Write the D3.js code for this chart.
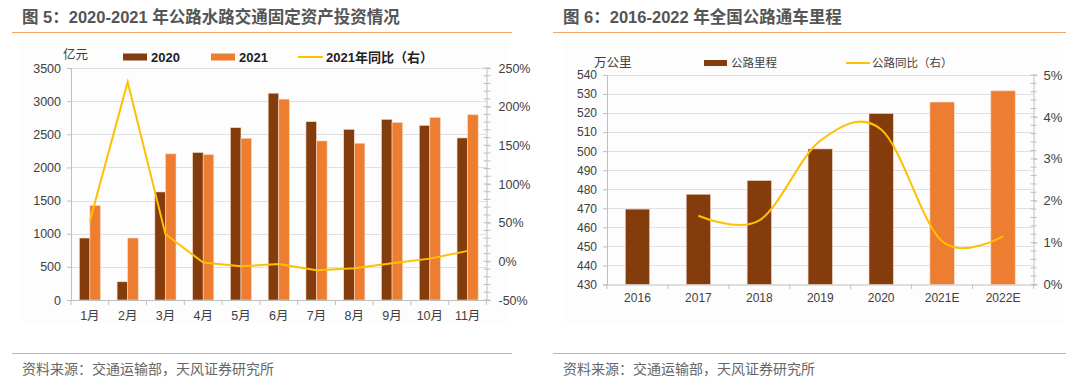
<!DOCTYPE html>
<html>
<head>
<meta charset="utf-8">
<script src="https://cdn.jsdelivr.net/npm/d3@7"></script>
<style>
  body { margin: 0; background: #fff; }
  svg text { font-family: "Liberation Sans", "Noto Sans CJK SC", sans-serif; }
</style>
</head>
<body>
<script>
// chart 5 data
let months = ["1月", "2月", "3月", "4月", "5月", "6月", "7月", "8月", "9月", "10月", "11月"];
let inv2020 = [935, 275, 1630, 2225, 2600, 3120, 2690, 2575, 2725, 2635, 2445];
let inv2021 = [1425, 935, 2205, 2195, 2440, 3030, 2400, 2365, 2680, 2755, 2795];
let yoy2021 = [0.52, 2.32, 0.35, -0.015, -0.065, -0.035, -0.115, -0.09, -0.025, 0.035, 0.135];
let leftTicks = [0, 500, 1000, 1500, 2000, 2500, 3000, 3500];
let rightTicks = [-0.5, 0, 0.5, 1, 1.5, 2, 2.5];

// chart 6 data
let years = ["2016", "2017", "2018", "2019", "2020", "2021E", "2022E"];
let mileage = [469.6, 477.4, 484.6, 501.2, 519.8, 525.8, 531.7];
let mileageYoy = [null, 0.0164, 0.0153, 0.0343, 0.0370, 0.0103, 0.0115];
let mileTicks = [430, 440, 450, 460, 470, 480, 490, 500, 510, 520, 530, 540];
let pctTicks = [0, 0.01, 0.02, 0.03, 0.04, 0.05];

let brown = "#843C0C", orange = "#ED7D31", gold = "#FFC000";
let gridColor = "#e0e0e0", axisColor = "#bfbfbf", labelColor = "#404040";
let sepColor = "#F5A766";

let svg = d3.select("body").append("svg")
  .attr("width", 1080)
  .attr("height", 386);

// frame: title, separator lines, source
function frame(x0, x1, title) {
  svg.append("rect")
    .attr("x", x0 + 10).attr("y", 40)
    .attr("width", x1 - x0 - 12).attr("height", 283)
    .attr("fill", "#fdfdfd");
  svg.append("text")
    .attr("x", x0 + 10).attr("y", 23)
    .attr("font-size", 16.5).attr("font-weight", "bold")
    .attr("fill", "#555")
    .text(title);
  svg.append("line")
    .attr("x1", x0).attr("x2", x1).attr("y1", 32.5).attr("y2", 32.5)
    .attr("stroke", sepColor).attr("stroke-width", 1.2);
  svg.append("line")
    .attr("x1", x0).attr("x2", x1).attr("y1", 353.5).attr("y2", 353.5)
    .attr("stroke", sepColor).attr("stroke-width", 1.2);
  svg.append("text")
    .attr("x", x0 + 10).attr("y", 374)
    .attr("font-size", 14).attr("fill", "#666")
    .text("资料来源：交通运输部，天风证券研究所");
}

frame(12, 512, "图 5：2020-2021 年公路水路交通固定资产投资情况");
frame(553, 1066, "图 6：2016-2022 年全国公路通车里程");

// ---------- chart 5 ----------
let x0 = d3.scaleBand().domain(months).range([71, 486.5])
  .paddingInner(0.44).paddingOuter(0.22);
let x1 = d3.scaleBand().domain(["2020", "2021"]).range([0, x0.bandwidth()]);
let yL = d3.scaleLinear().domain([0, 3500]).range([300, 68]);
let yR = d3.scaleLinear().domain([-0.5, 2.5]).range([300, 68]);

let g5 = svg.append("g");

g5.selectAll(".grid").data(leftTicks.slice(1)).enter()
  .append("line")
  .attr("x1", 71).attr("x2", 486.5)
  .attr("y1", d => Math.round(yL(d)) + 0.5).attr("y2", d => Math.round(yL(d)) + 0.5)
  .attr("stroke", gridColor);

let bars5 = months.map((m, i) => [
  {m: m, k: "2020", v: inv2020[i], c: brown},
  {m: m, k: "2021", v: inv2021[i], c: orange}
]).flat();

g5.selectAll(".bar").data(bars5).enter()
  .append("rect")
  .attr("x", d => x0(d.m) + x1(d.k))
  .attr("y", d => yL(d.v))
  .attr("width", x1.bandwidth())
  .attr("height", d => yL(0) - yL(d.v))
  .attr("fill", d => d.c)
  .attr("stroke", "#f6dccb").attr("stroke-width", 0.6);

// left axis
let axL = g5.append("g")
  .attr("transform", "translate(71,0)")
  .call(d3.axisLeft(yL).tickValues(leftTicks).tickSize(4).tickPadding(6)
    .tickFormat(d3.format("d")));
// right axis
let axR = g5.append("g")
  .attr("transform", "translate(486.5,0)")
  .call(d3.axisRight(yR).tickValues(rightTicks).tickSize(4).tickPadding(8)
    .tickFormat(d => Math.round(d * 100) + "%"));
let minor5 = d3.range(-0.5, 2.501, 0.1);
g5.selectAll(".minorR").data(minor5).enter()
  .append("line")
  .attr("x1", 483.5).attr("x2", 490.5)
  .attr("y1", d => yR(d)).attr("y2", d => yR(d))
  .attr("stroke", axisColor);
// bottom axis
let axB = g5.append("g")
  .attr("transform", "translate(0,300)")
  .call(d3.axisBottom(x0).tickSize(0).tickPadding(11));
g5.selectAll(".xt").data(d3.range(months.length + 1)).enter()
  .append("line")
  .attr("x1", i => 71 + i * x0.step()).attr("x2", i => 71 + i * x0.step())
  .attr("y1", 300).attr("y2", 305)
  .attr("stroke", axisColor);

[axL, axR, axB].forEach(a => {
  a.selectAll("path, line").attr("stroke", axisColor);
  a.selectAll("text").attr("fill", labelColor).attr("font-size", 12.5)
    .attr("font-family", "Liberation Sans, Noto Sans CJK SC");
});

let line5 = d3.line()
  .x((d, i) => x0(months[i]) + x0.bandwidth() / 2)
  .y(d => yR(d));
g5.append("path")
  .datum(yoy2021)
  .attr("d", line5)
  .attr("fill", "none")
  .attr("stroke", gold).attr("stroke-width", 2);

// legend 5
g5.append("text").attr("x", 63).attr("y", 59)
  .attr("font-size", 12.5).attr("fill", labelColor).text("亿元");
let leg5 = [
  {x: 123, label: "2020", c: brown, t: "rect"},
  {x: 211, label: "2021", c: orange, t: "rect"},
  {x: 298, label: "2021年同比（右）", c: gold, t: "line"}
];
leg5.forEach(d => {
  if (d.t === "rect") {
    g5.append("rect").attr("x", d.x).attr("y", 53.5).attr("width", 24).attr("height", 7).attr("fill", d.c);
  } else {
    g5.append("line").attr("x1", d.x).attr("x2", d.x + 25).attr("y1", 57).attr("y2", 57)
      .attr("stroke", d.c).attr("stroke-width", 2);
  }
  g5.append("text").attr("x", d.x + 28).attr("y", 61.5)
    .attr("font-size", 13).attr("font-weight", "bold").attr("fill", "#222")
    .text(d.label);
});

// ---------- chart 6 ----------
let xs = d3.scaleBand().domain(years).range([607, 1033.5])
  .paddingInner(0.6).paddingOuter(0.3);
let yM = d3.scaleLinear().domain([430, 540]).range([284.5, 75]);
let yP = d3.scaleLinear().domain([0, 0.05]).range([284.5, 75]);

let g6 = svg.append("g");

g6.selectAll(".grid").data(mileTicks.slice(1)).enter()
  .append("line")
  .attr("x1", 607).attr("x2", 1033.5)
  .attr("y1", d => Math.round(yM(d)) + 0.5).attr("y2", d => Math.round(yM(d)) + 0.5)
  .attr("stroke", gridColor);

g6.selectAll(".bar").data(years).enter()
  .append("rect")
  .attr("x", d => xs(d))
  .attr("y", (d, i) => yM(mileage[i]))
  .attr("width", xs.bandwidth())
  .attr("height", (d, i) => yM(430) - yM(mileage[i]))
  .attr("fill", d => d.endsWith("E") ? orange : brown)
  .attr("stroke", "#f6dccb").attr("stroke-width", 0.6);

let axL6 = g6.append("g")
  .attr("transform", "translate(607,0)")
  .call(d3.axisLeft(yM).tickValues(mileTicks).tickSize(4).tickPadding(6));
let axR6 = g6.append("g")
  .attr("transform", "translate(1033.5,0)")
  .call(d3.axisRight(yP).tickValues(pctTicks).tickSize(4).tickPadding(6)
    .tickFormat(d => Math.round(d * 100) + "%"));
let minor6 = d3.range(0, 0.0501, 0.002);
g6.selectAll(".minorR").data(minor6).enter()
  .append("line")
  .attr("x1", 1030.5).attr("x2", 1036.5)
  .attr("y1", d => yP(d)).attr("y2", d => yP(d))
  .attr("stroke", axisColor);
let axB6 = g6.append("g")
  .attr("transform", "translate(0,284.5)")
  .call(d3.axisBottom(xs).tickSize(0).tickPadding(9));
g6.selectAll(".xt").data(d3.range(years.length + 1)).enter()
  .append("line")
  .attr("x1", i => 607 + i * xs.step()).attr("x2", i => 607 + i * xs.step())
  .attr("y1", 284.5).attr("y2", 289)
  .attr("stroke", axisColor);

[axL6, axR6, axB6].forEach(a => {
  a.selectAll("path, line").attr("stroke", axisColor);
  a.selectAll("text").attr("fill", labelColor).attr("font-size", 12)
    .attr("font-family", "Liberation Sans, Noto Sans CJK SC");
});
axR6.selectAll("text").attr("font-size", 13);

let line6 = d3.line()
  .defined(d => d != null)
  .x((d, i) => xs(years[i]) + xs.bandwidth() / 2)
  .y(d => yP(d))
  .curve(d3.curveCardinal.tension(0));
g6.append("path")
  .datum(mileageYoy)
  .attr("d", line6)
  .attr("fill", "none")
  .attr("stroke", gold).attr("stroke-width", 2);

// legend 6
g6.append("text").attr("x", 594).attr("y", 67)
  .attr("font-size", 12.5).attr("fill", labelColor).text("万公里");
g6.append("rect").attr("x", 704).attr("y", 60).attr("width", 23).attr("height", 6).attr("fill", brown);
g6.append("text").attr("x", 731).attr("y", 67)
  .attr("font-size", 11.5).attr("fill", labelColor).text("公路里程");
g6.append("line").attr("x1", 846).attr("x2", 870).attr("y1", 63).attr("y2", 63)
  .attr("stroke", gold).attr("stroke-width", 2);
g6.append("text").attr("x", 872).attr("y", 67)
  .attr("font-size", 11.5).attr("fill", labelColor).text("公路同比（右）");
</script>
</body>
</html>
